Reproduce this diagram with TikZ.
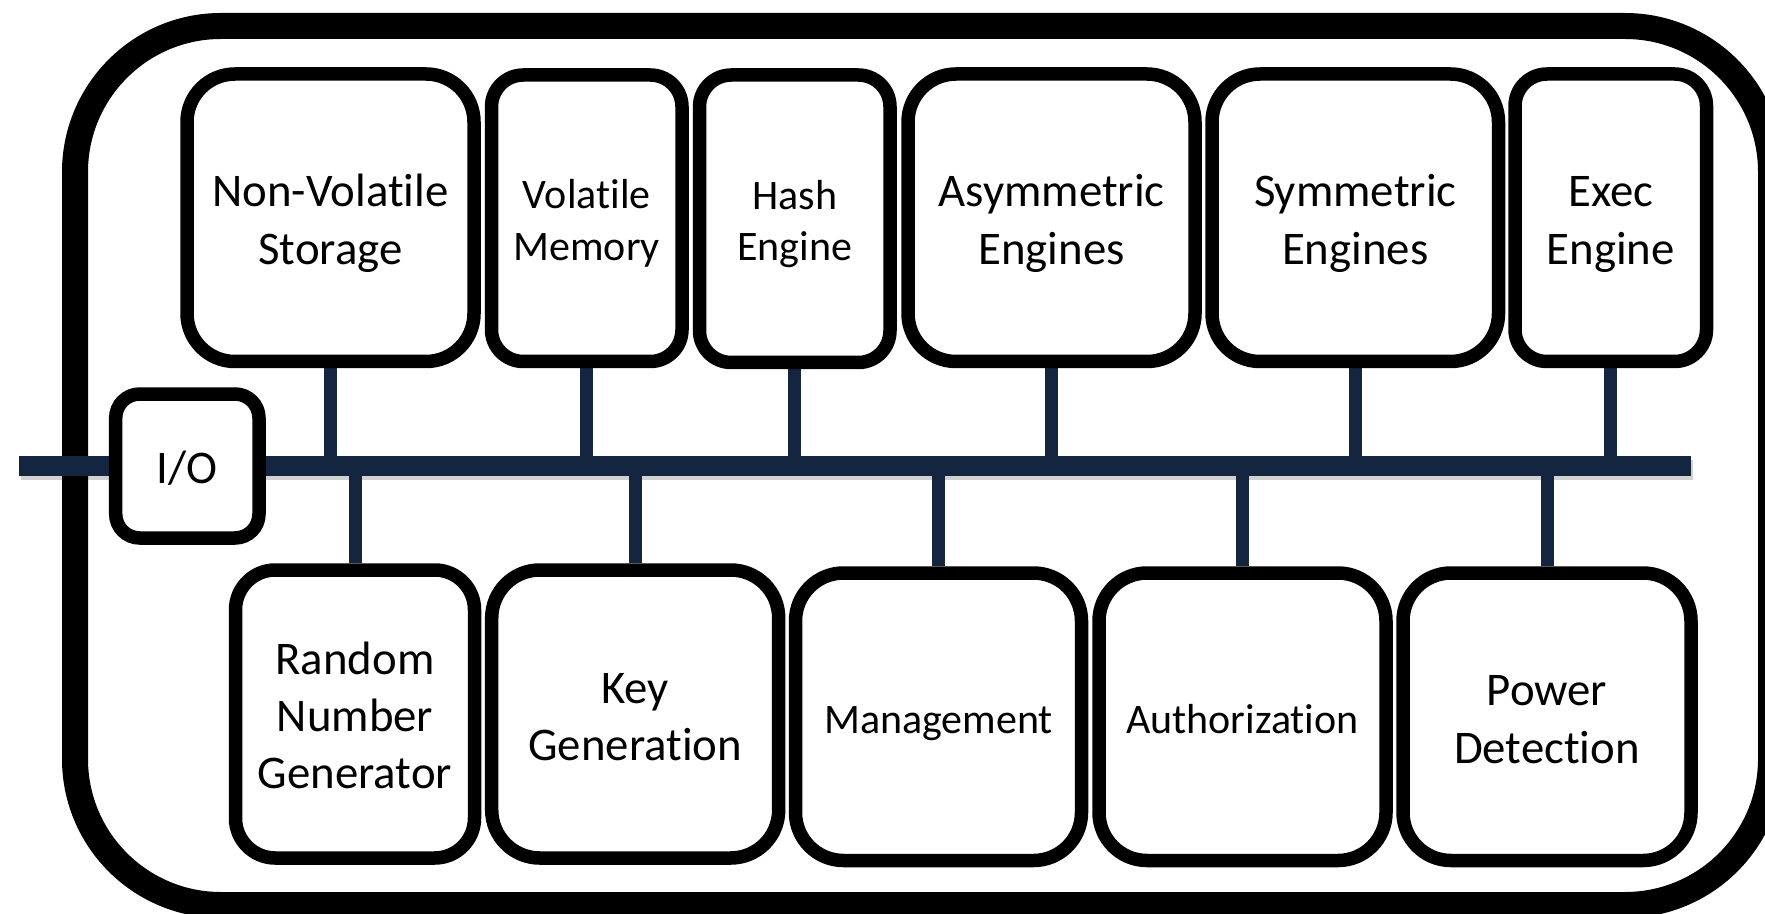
\documentclass[tikz,border=0pt]{standalone}
\usepackage{fontspec}
\setmainfont[Ligatures={NoCommon}]{Carlito}
\usetikzlibrary{backgrounds}
\definecolor{busnavy}{RGB}{19,37,63}
\newcommand\bigfont{\fontsize{23.4pt}{28.56pt}\selectfont}
\newcommand\smallfont{\fontsize{21pt}{25.63pt}\selectfont}
\newcommand\boxlines[1]{\begin{tabular}[t]{@{}c@{}}#1\end{tabular}}
\begin{document}
\begin{tikzpicture}[x=0.5pt,y=-0.5pt,
  box/.style={draw=black, line width=6.75pt, fill=white, inner sep=0pt,
              anchor=center, text height=17.8pt, text depth=0pt, font=\bigfont},
  boxsize/.style n args={2}{minimum width=#1*0.5pt, minimum height=#2*0.5pt},
  sm/.style={font=\smallfont, text height=16.3pt},
  twolines/.style={text depth=28.56pt},
  twosmall/.style={text depth=25.63pt},
  threelines/.style={text depth=57.12pt},
  link/.style={draw=busnavy, line width=6.5pt},
  busline/.style={draw=busnavy, line width=10pt},
  busshadow/.style={draw=black, opacity=0.18, line width=10pt},
  frame/.style={draw=black, line width=13pt, rounded corners=73pt}
]
\useasboundingbox (0,0) rectangle (1765,914);
\clip (0,0) rectangle (1765,914);

% top row
\node[box, twolines, rounded corners=24pt, boxsize={287}{287.5}] (nv) at (330.5,217.75) {\boxlines{Non-Volatile\\Storage}};
\node[box, sm, twosmall, rounded corners=15.9pt, boxsize={190.5}{286.5}] (vm) at (586.75,218.25) {\boxlines{Volatile\\Memory}};
\node[box, sm, twosmall, rounded corners=15.9pt, boxsize={190.5}{287.5}] (hash) at (794.75,218.75) {\boxlines{Hash\\Engine}};
\node[box, twolines, rounded corners=24pt, boxsize={287}{287.5}] (asym) at (1051.5,217.75) {\boxlines{Asymmetric\\Engines}};
\node[box, twolines, rounded corners=24pt, boxsize={286.5}{287.5}] (sym) at (1355.25,217.75) {\boxlines{Symmetric\\Engines}};
\node[box, twolines, rounded corners=16pt, boxsize={191.5}{287.5}] (exec) at (1610.75,217.75) {\boxlines{Exec\\Engine}};

% I/O
\node[box, rounded corners=12pt, boxsize={143.3}{144}] (io) at (187.35,466) {I/O};

% bottom row
\node[box, threelines, rounded corners=19.9pt, boxsize={239}{288}] (rng) at (355,714) {\boxlines{Random\\Number\\Generator}};
\node[box, twolines, rounded corners=24pt, boxsize={287}{288}] (keygen) at (635.2,714) {\boxlines{Key\\Generation}};
\node[box, sm, rounded corners=24pt, boxsize={286}{287.5}] (mgmt) at (938.5,716.75) {Management};
\node[box, sm, rounded corners=24pt, boxsize={287}{287.5}] (auth) at (1242.5,716.75) {Authorization};
\node[box, twolines, rounded corners=24pt, boxsize={288}{287.5}] (power) at (1547,716.75) {\boxlines{Power\\Detection}};

\coordinate (busL) at (19,466);
\coordinate (busR) at (1691,466);

\begin{scope}[on background layer]
  \fill[white] (0,0) rectangle (1765,914);
  \draw[frame] (75,26) rectangle (1771,905);
  \draw[busshadow] ([shift={(2,4)}]busL) -- ([shift={(2,4)}]busR);
  \draw[busline] (busL) -- (busR);
  \foreach \n in {nv,vm,hash,asym,sym,exec}
    \draw[link] (\n.south) -- (\n.south |- busL);
  \foreach \n in {rng,keygen,mgmt,auth,power}
    \draw[link] (\n.north) -- (\n.north |- busL);
\end{scope}
\end{tikzpicture}
\end{document}
